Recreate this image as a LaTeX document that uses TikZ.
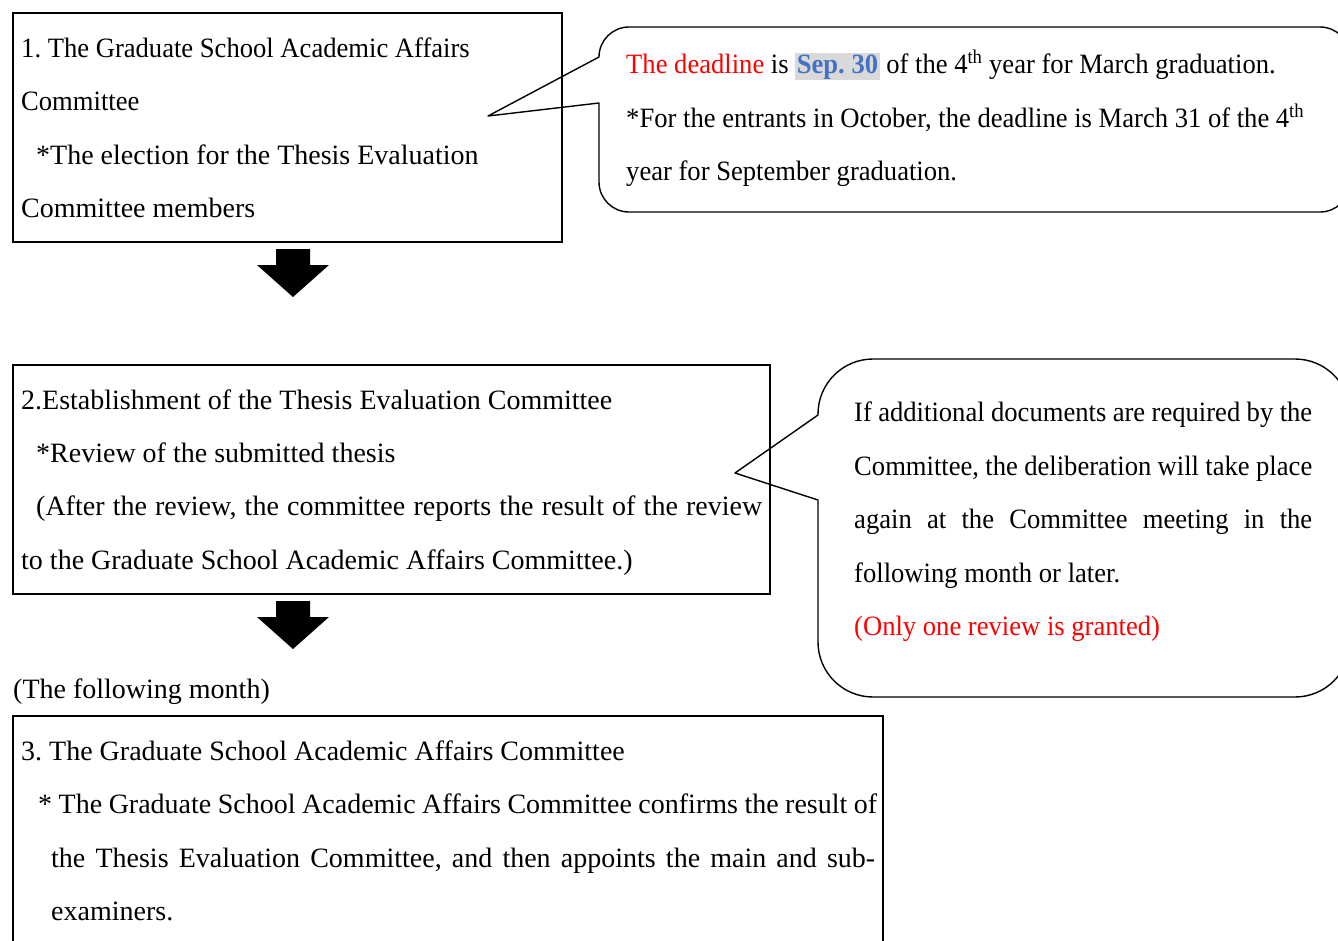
\documentclass[tikz,border=0pt]{standalone}
\usepackage{fontspec}
\setmainfont{Liberation Serif}
\newfontfamily\narrowfont[FakeStretch=0.95]{Liberation Serif}
\definecolor{dlred}{HTML}{FF0000}
\definecolor{sepblue}{HTML}{4472C4}
\definecolor{hlgray}{HTML}{D9D9D9}
\newcommand{\spreadline}[2]{\makebox[#1pt][s]{#2}}
\newcommand{\ordth}{\textsuperscript{th}}
\newcommand{\sepdate}{{\setlength{\fboxsep}{1.5pt}\colorbox{hlgray}{\textbf{\color{sepblue}Sep. 30}}}}
\frenchspacing

\begin{document}
\begin{tikzpicture}[x=1pt, y=-1pt]
  \tikzset{
    line/.style={anchor=base west, inner sep=0pt, font=\fontsize{28}{34}\selectfont},
    narrowline/.style={line, font=\narrowfont\fontsize{28}{34}\selectfont},
    stepbox/.style={draw, line width=1.6pt},
    balloon/.style={draw, line width=1.4pt, line join=round},
    downarrow/.pic={\fill (-17,0) -- (17,0) -- (17,16) -- (36,16) -- (0,48) -- (-36,16) -- (-17,16) -- cycle;}
  }
  \useasboundingbox (0,0) rectangle (1338,940);
  \clip (0,0) rectangle (1338,940);

  % step 1
  \draw[stepbox] (13,13) rectangle (562,242);
  \node[narrowline] (s1a) at (21,57) {1. The Graduate School Academic Affairs};
  \node[narrowline] (s1b) at (21,110) {Committee};
  \node[line] (s1c) at (36,164) {*The election for the Thesis Evaluation};
  \node[line] (s1d) at (21,217) {Committee members};

  % deadline balloon
  \draw[balloon] (1320,27) -- (629,27) arc[start angle=270, end angle=180, radius=30]
    -- (488,116) -- (599,103) -- (599,182)
    arc[start angle=180, end angle=90, radius=30] -- (1320,212)
    arc[start angle=90, end angle=0, radius=30] -- (1350,57)
    arc[start angle=0, end angle=-90, radius=30] -- cycle;
  \node[narrowline] (d1) at (626,73) {{\color{dlred}The deadline} is \sepdate{} of the 4\ordth{} year for March graduation.};
  \node[narrowline] (d2) at (626,127) {*For the entrants in October, the deadline is March 31 of the 4\ordth};
  \node[narrowline] (d3) at (626,180) {year for September graduation.};

  \pic at (293,249) {downarrow};

  % step 2
  \draw[stepbox] (13,365) rectangle (770,594);
  \node[line] (s2a) at (21,409) {2.Establishment of the Thesis Evaluation Committee};
  \node[line] (s2b) at (36,462) {*Review of the submitted thesis};
  \node[line] (s2c) at (36,515) {\spreadline{726}{(After the review, the committee reports the result of the review}};
  \node[line] (s2d) at (21,569) {to the Graduate School Academic Affairs Committee.)};

  % review balloon
  \draw[balloon] (1350,414) -- (1350,642)
    arc[start angle=0, end angle=90, radius=55] -- (873,697)
    arc[start angle=90, end angle=180, radius=55] -- (818,500) -- (735,473) -- (818,415)
    -- (818,414) arc[start angle=180, end angle=270, radius=55] -- (1295,359)
    arc[start angle=270, end angle=360, radius=55];
  \node[narrowline] (r1) at (854,421) {\spreadline{458}{If additional documents are required by the}};
  \node[narrowline] (r2) at (854,475) {\spreadline{458}{Committee, the deliberation will take place}};
  \node[narrowline] (r3) at (854,528) {\spreadline{458}{again at the Committee meeting in the}};
  \node[narrowline] (r4) at (854,582) {following month or later.};
  \node[narrowline, text=dlred] (r5) at (854,635) {(Only one review is granted)};

  \pic at (293,601) {downarrow};

  \node[line] (month) at (13,698) {(The following month)};

  % step 3
  \draw[stepbox] (13,716) rectangle (883,960);
  \node[line] (s3a) at (21,760) {3. The Graduate School Academic Affairs Committee};
  \node[line] (s3b) at (38,813) {\spreadline{839}{* The Graduate School Academic Affairs Committee confirms the result of}};
  \node[line] (s3c) at (51,867) {\spreadline{824}{the Thesis Evaluation Committee, and then appoints the main and sub-}};
  \node[line] (s3d) at (51,920) {examiners.};
\end{tikzpicture}
\end{document}
